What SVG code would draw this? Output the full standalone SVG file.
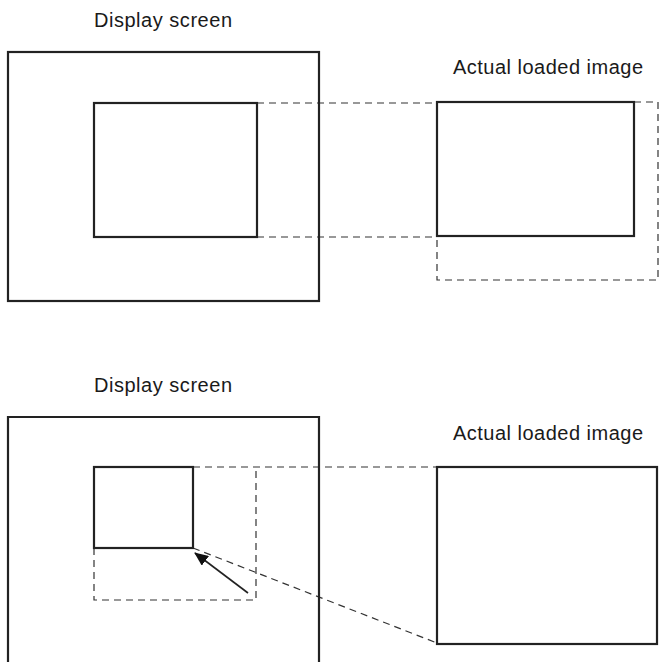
<svg xmlns="http://www.w3.org/2000/svg" width="659" height="662" viewBox="0 0 659 662">
<defs>
<style>
.t{font-family:"Liberation Sans",Arial,sans-serif;font-size:20px;fill:#1a1a1a}
.s{fill:none;stroke:#222;stroke-width:2.2}
.d{fill:none;stroke:#333;stroke-width:1.2;stroke-dasharray:7,5}
.a{fill:none;stroke:#222;stroke-width:1.6}
</style>
<marker id="ah" markerWidth="14" markerHeight="12" refX="13" refY="6" orient="auto" markerUnits="userSpaceOnUse">
<path d="M0,0 L14,6 L0,12 Z" fill="#111"/>
</marker>
</defs>
<rect width="659" height="662" fill="#fff"/>
<g id="connectors">
<line class="d" x1="257" y1="103" x2="437" y2="103"/>
<line class="d" x1="257" y1="237" x2="437" y2="237"/>
<path class="d" d="M634,102 H658 V280 H437 V236"/>
<line class="d" x1="193" y1="467" x2="437" y2="467"/>
<path class="d" d="M94,548 V600 H256 V467"/>
<line class="d" x1="193" y1="548" x2="437" y2="643"/>
<line class="a" x1="248" y1="593" x2="195" y2="553" marker-end="url(#ah)"/>
</g>
<g id="top-screen">
<rect class="s" x="8" y="52" width="311" height="249"/>
<text class="t" x="94" y="27" textLength="138">Display screen</text>
</g>
<g id="top-view">
<rect class="s" x="94" y="103" width="163" height="134"/>
</g>
<g id="top-image">
<rect class="s" x="437" y="102" width="197" height="134"/>
<text class="t" x="453" y="74" textLength="190">Actual loaded image</text>
</g>
<g id="bottom-screen">
<path class="s" d="M8,670 V417 H319 V670"/>
<text class="t" x="94" y="392" textLength="138">Display screen</text>
</g>
<g id="bottom-view">
<rect class="s" x="94" y="467" width="99" height="81"/>
</g>
<g id="bottom-image">
<rect class="s" x="437" y="467" width="220" height="177"/>
<text class="t" x="453" y="440" textLength="190">Actual loaded image</text>
</g>
</svg>
